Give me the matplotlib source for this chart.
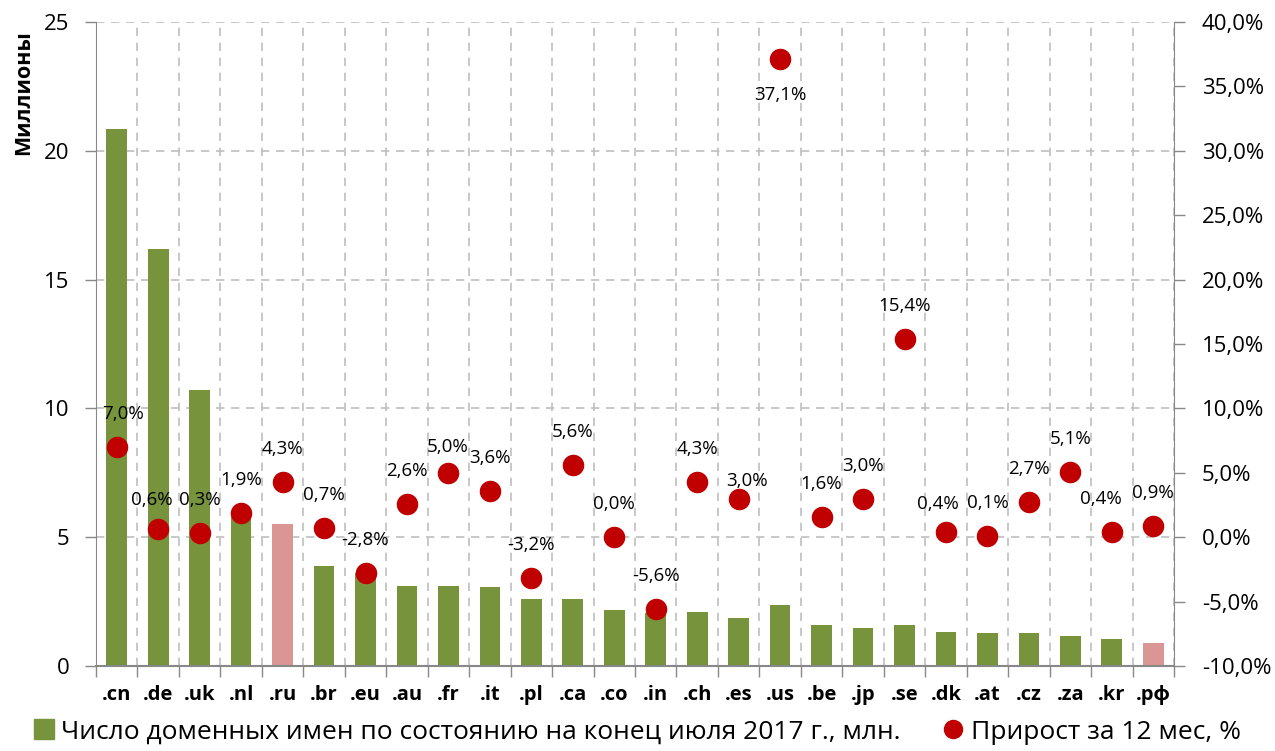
import matplotlib.pyplot as plt
import numpy as np
from matplotlib.lines import Line2D

plt.rcParams['font.family'] = ['Open Sans', 'DejaVu Sans']

# Данные
domains = ['.cn', '.de', '.uk', '.nl', '.ru', '.br', '.eu', '.au', '.fr', '.it', '.pl', '.ca', '.co',
           '.in', '.ch', '.es', '.us', '.be', '.jp', '.se', '.dk', '.at', '.cz', '.za', '.kr', '.рф']
counts = [20.85, 16.2, 10.7, 5.8, 5.5, 3.9, 3.6, 3.1, 3.1, 3.05, 2.6, 2.6, 2.17,
          2.05, 2.1, 1.87, 2.37, 1.58, 1.48, 1.58, 1.32, 1.27, 1.28, 1.15, 1.04, 0.89]
growth = [7.0, 0.6, 0.3, 1.9, 4.3, 0.7, -2.8, 2.6, 5.0, 3.6, -3.2, 5.6, 0.0,
          -5.6, 4.3, 3.0, 37.1, 1.6, 3.0, 15.4, 0.4, 0.1, 2.7, 5.1, 0.4, 0.9]
russian = ['.ru', '.рф']

green = '#77933C'
pink = '#D99694'
red = '#C00000'
grid_c = '#BFBFBF'
spine_c = '#888888'

fig = plt.figure(figsize=(12.75, 7.51), dpi=100, facecolor='white')
ax = fig.add_axes([0.0753, 0.1132, 0.8455, 0.8575])
ax2 = ax.twinx()

x = np.arange(len(domains))
bar_colors = [pink if d in russian else green for d in domains]
ax.bar(x, counts, width=0.5, color=bar_colors, zorder=2)

ax.set_xlim(-0.5, len(domains) - 0.5)
ax.set_ylim(0, 25)
ax.set_yticks(np.arange(0, 26, 5))
ax.set_xticks(x)
ax.set_xticklabels(domains, fontsize=14.5, fontweight='bold')
ax.set_xticks(np.arange(-0.5, len(domains), 1), minor=True)
ax.tick_params(axis='x', which='major', length=0, pad=14)
ax.tick_params(axis='x', which='minor', length=8, width=1, color=spine_c)
ax.tick_params(axis='y', length=8, width=1, color=spine_c, labelsize=16, pad=11)
ax.set_ylabel('Миллионы', fontsize=15.5, fontweight='bold')
ax.yaxis.set_label_coords(-0.057, 0.89)

ax.grid(True, axis='y', which='major', linestyle=(0, (5, 4)), color=grid_c, linewidth=1.2, zorder=0)
ax.grid(True, axis='x', which='minor', linestyle=(0, (5, 4)), color=grid_c, linewidth=1.2, zorder=0)
ax.set_axisbelow(True)

for a in (ax, ax2):
    for s in a.spines.values():
        s.set_visible(False)
ax.spines['left'].set_visible(True)
ax.spines['left'].set_color(spine_c)
ax.spines['bottom'].set_visible(True)
ax.spines['bottom'].set_color(spine_c)
ax.spines['bottom'].set_linewidth(1.5)
ax2.spines['right'].set_visible(True)
ax2.spines['right'].set_color(spine_c)

# Прирост
ax2.scatter(x, growth, s=210, color=red, zorder=4)
ax2.set_ylim(-10, 40)
ax2.set_yticks(np.arange(-10, 41, 5))
ax2.set_yticklabels([f'{v:.1f}%'.replace('.', ',') for v in np.arange(-10, 41, 5)])
ax2.tick_params(axis='y', length=8, width=1, color=spine_c, labelsize=16, pad=12)

# смещения подписей (пиксели)
offsets = {'.cn': (6, 33), '.de': (-6, 29), '.fr': (-1, 26), '.es': (8, 18),
           '.us': (0, -36), '.dk': (-8, 28), '.kr': (-11, 33)}
for xi, d, g in zip(x, domains, growth):
    dx, dy = offsets.get(d, (0, 33))
    ax2.annotate(f'{g:.1f}%'.replace('.', ','), (xi, g), xytext=(dx, dy),
                 textcoords='offset pixels', ha='center', va='center',
                 fontsize=13.5, color='black', zorder=5)

handles = [Line2D([], [], marker='s', linestyle='none', markersize=14, color=green),
           Line2D([], [], marker='o', linestyle='none', markersize=13, color=red)]
fig.legend(handles, ['Число доменных имен по состоянию на конец июля 2017 г., млн.',
                     'Прирост за 12 мес, %'],
           loc='center', bbox_to_anchor=(0.4996, 0.025), ncol=2, frameon=False,
           fontsize=19, handletextpad=0.25, columnspacing=1.6, handlelength=0.8,
           borderpad=0, borderaxespad=0)

plt.savefig('out.png', dpi=100, facecolor='white')
